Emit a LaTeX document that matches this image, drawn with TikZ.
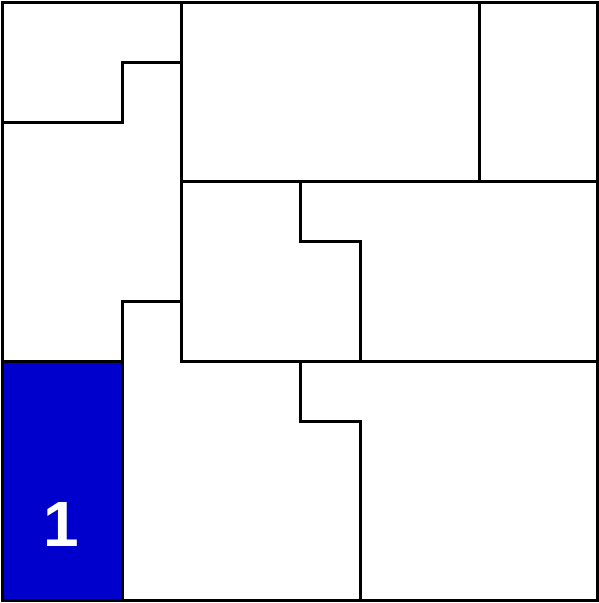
\documentclass[tikz,border=0pt]{standalone}
\usepackage{fontspec}
\setmainfont{Liberation Sans}
\definecolor{cellblue}{RGB}{0,0,205}
\begin{document}
\begin{tikzpicture}[x=1pt,y=-1pt,
  wall/.style={line width=3pt,line cap=rect,line join=miter},
  lbl/.style={text=white,font=\bfseries\fontsize{64}{64}\selectfont,inner sep=0pt}]
\useasboundingbox (0,0) rectangle (598,603);
\fill[cellblue] (2,361) rectangle (122,600);
\node[lbl] (one) at (61,524) {1};
% outer border
\draw[wall] (2,2) rectangle (597,600);
% top-left room
\draw[wall] (2,122) -- (122,122) -- (122,62) -- (181,62);
\draw[wall] (181,2) -- (181,361);
% top right
\draw[wall] (479,2) -- (479,181);
\draw[wall] (181,181) -- (597,181);
\draw[wall] (300,181) -- (300,241) -- (360,241) -- (360,361);
% middle left
\draw[wall] (181,301) -- (122,301) -- (122,600);
\draw[wall] (2,361) -- (122,361);
\draw[wall] (181,361) -- (597,361);
% bottom
\draw[wall] (300,361) -- (300,421) -- (360,421) -- (360,600);
\end{tikzpicture}
\end{document}
